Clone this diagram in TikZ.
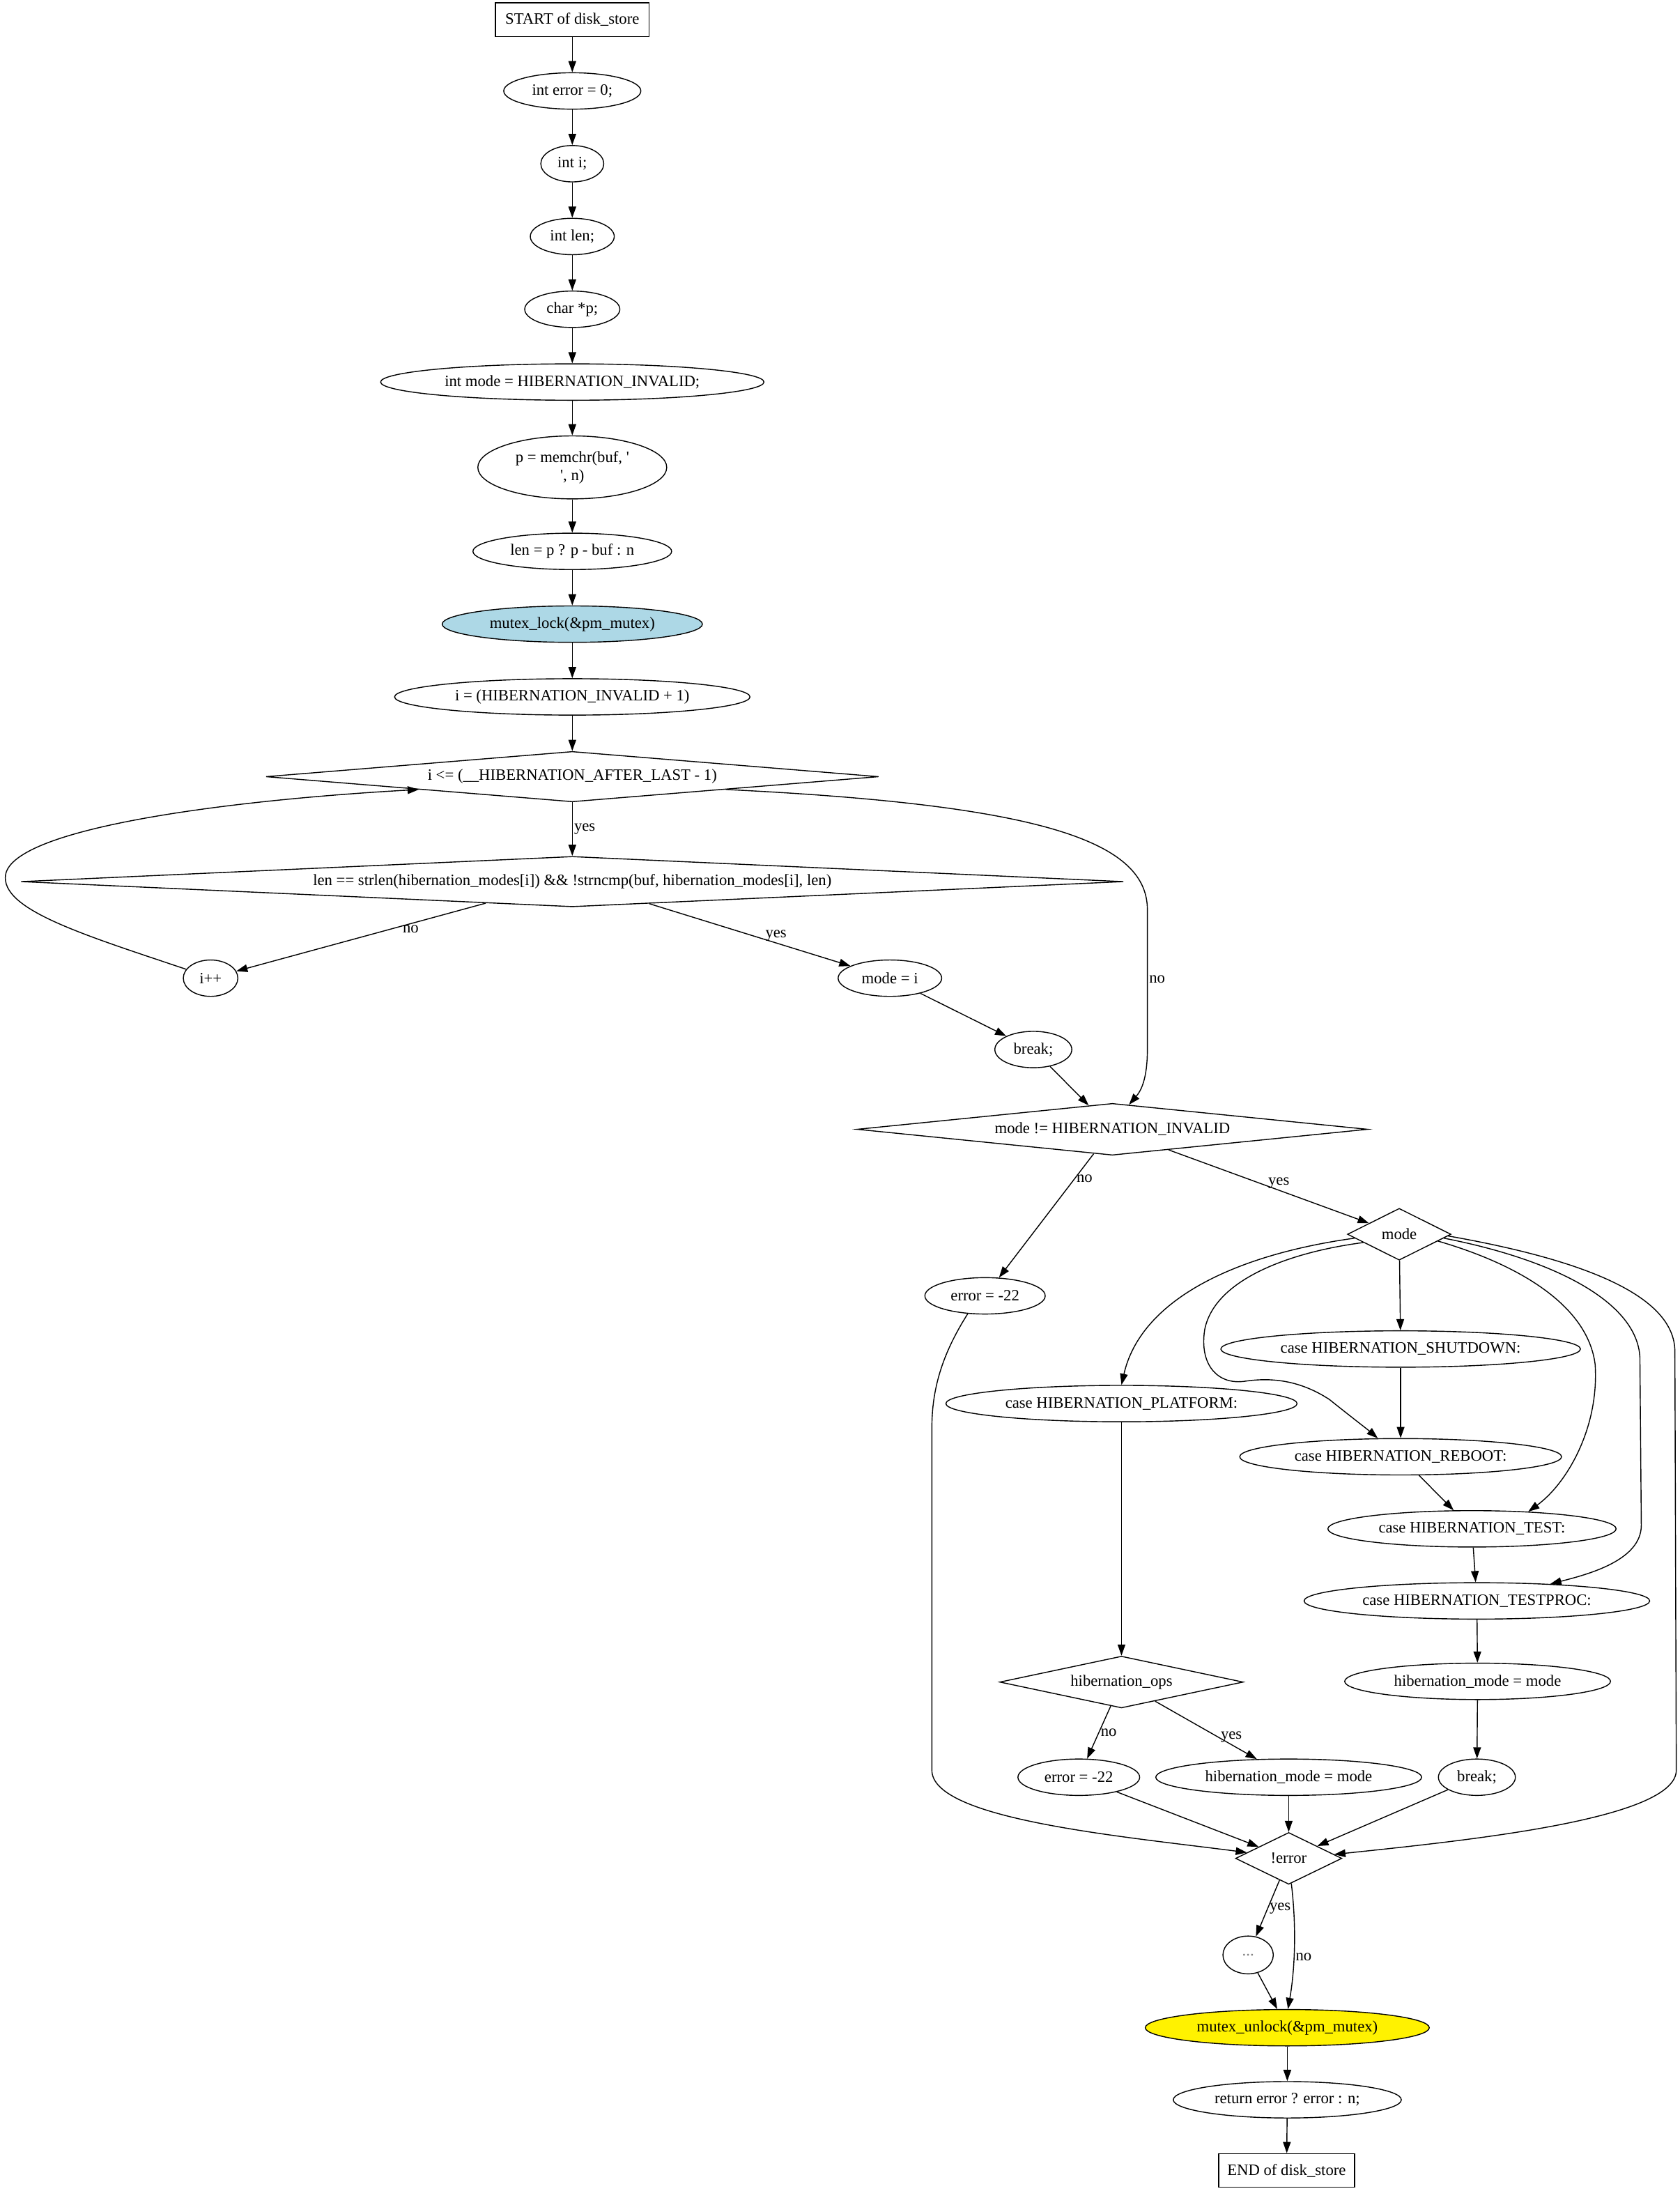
\documentclass[tikz,border=0pt]{standalone}
\usepackage{fontspec}
\setmainfont{Liberation Serif}
\usetikzlibrary{shapes.geometric,arrows.meta}
\definecolor{lockblue}{HTML}{ADD8E6}

\begin{document}
\begin{tikzpicture}[x=1pt, y=-1pt, line width=0.7pt,
    font=\fontsize{11.3}{13}\selectfont,
    every node/.style={inner sep=0pt},
    box/.style={draw, rectangle, minimum height=24pt},
    proc/.style={draw, ellipse, minimum height=26pt},
    cond/.style={draw, diamond, minimum height=37pt},
    lbl/.style={inner sep=1pt},
    flow/.style={-{Triangle[length=8pt,width=5.5pt]}}]
    \useasboundingbox (0,0) rectangle (1200.2,1565.7);

    % 先画上面一列的语句
    \node[box, minimum width=110pt] (start) at (409,14) {START of disk\_store};
    \node[proc, minimum width=98pt] (errinit) at (409,65) {int error = 0;};
    \node[proc, minimum width=45pt] (idecl) at (409,117) {int i;};
    \node[proc, minimum width=60pt] (lendecl) at (409,169) {int len;};
    \node[proc, minimum width=68pt] (pdecl) at (409,221) {char *p;};
    \node[proc, minimum width=274pt] (modedecl) at (409,273) {int mode = HIBERNATION\_INVALID;};
    \node[proc, minimum width=135pt, minimum height=45pt, align=center] (memchr) at (409,334)
        {p = memchr(buf, \textquotesingle\\\textquotesingle, n)};
    \node[proc, minimum width=142pt] (lenset) at (409,394) {len = p ? p - buf : n};
    \node[proc, minimum width=186pt, fill=lockblue] (lock) at (409,446) {mutex\_lock(\&pm\_mutex)};
    \node[proc, minimum width=254pt] (iinit) at (409,498) {i = (HIBERNATION\_INVALID + 1)};
    \node[cond, minimum width=438pt, minimum height=36pt, aspect=12] (loopcond) at (409,555)
        {i <= (\_\_HIBERNATION\_AFTER\_LAST - 1)};
    \node[cond, minimum width=788pt, minimum height=36pt, aspect=22] (match) at (409,630)
        {len == strlen(hibernation\_modes[i]) \&\& !strncmp(buf, hibernation\_modes[i], len)};
    \node[proc, minimum width=39pt] (iinc) at (150.5,699) {i++};
    \node[proc, minimum width=74pt] (modeset) at (636,699) {mode = i};
    \node[proc, minimum width=55pt] (brk) at (738.5,750) {break;};

    % switch 部分
    \node[cond, minimum width=365pt, aspect=10] (valid) at (795,807) {mode != HIBERNATION\_INVALID};
    \node[cond, minimum width=74pt, aspect=2] (sw) at (1000,882) {mode};
    \node[proc, minimum width=86pt] (errinval) at (704,926) {error = -22};
    \node[proc, minimum width=257pt] (shutdown) at (1001,964) {case HIBERNATION\_SHUTDOWN:};
    \node[proc, minimum width=251pt] (platform) at (801.5,1003) {case HIBERNATION\_PLATFORM:};
    \node[proc, minimum width=230pt] (reboot) at (1001,1041) {case HIBERNATION\_REBOOT:};
    \node[proc, minimum width=206pt] (test) at (1052,1092.5) {case HIBERNATION\_TEST:};
    \node[proc, minimum width=247pt] (testproc) at (1055.5,1144) {case HIBERNATION\_TESTPROC:};
    \node[cond, minimum width=174pt, aspect=4.7] (hibops) at (801.5,1202) {hibernation\_ops};
    \node[proc, minimum width=190pt] (hibset) at (1056,1201.5) {hibernation\_mode = mode};
    \node[proc, minimum width=87pt] (errops) at (771,1270) {error = -22};
    \node[proc, minimum width=190pt] (hibset2) at (921,1270) {hibernation\_mode = mode};
    \node[proc, minimum width=55pt] (brk2) at (1055.5,1270) {break;};
    \node[cond, minimum width=76pt, aspect=2] (noerr) at (921,1328) {!error};
    \node[proc, minimum width=36pt, minimum height=27pt] (dots) at (892,1397) {\textcolor{gray}{...}};
    \node[proc, minimum width=203pt, fill=yellow] (unlock) at (920,1449) {mutex\_unlock(\&pm\_mutex)};
    \node[proc, minimum width=163pt] (ret) at (920,1500.5) {return error ? error : n;};
    \node[box, minimum width=97pt] (stop) at (919.5,1551) {END of disk\_store};

    % 箭头
    \draw[flow] (start) -- (errinit);
    \draw[flow] (errinit) -- (idecl);
    \draw[flow] (idecl) -- (lendecl);
    \draw[flow] (lendecl) -- (pdecl);
    \draw[flow] (pdecl) -- (modedecl);
    \draw[flow] (modedecl) -- (memchr);
    \draw[flow] (memchr) -- (lenset);
    \draw[flow] (lenset) -- (lock);
    \draw[flow] (lock) -- (iinit);
    \draw[flow] (iinit) -- (loopcond);
    \draw[flow] (loopcond) -- node[lbl, right] {yes} (match);
    \draw[flow] (match.194) -- node[lbl, pos=0.3, below] {no} (iinc);
    \draw[flow] (match.344) -- node[lbl, pos=0.63, above] {yes} (modeset);
    \draw[flow] (iinc.160) .. controls (60,668) and (0,650) .. (4,625)
        .. controls (10,592) and (160,572) .. (loopcond.south west);
    \draw[flow] (loopcond.south east) .. controls (740,575) and (820,600) .. (820,650)
        -- node[lbl, right] {no} (820,750) .. controls (820,772) and (815,780) .. (valid.56);
    \draw[flow] (modeset) -- (brk);
    \draw[flow] (brk) -- (valid);
    \draw[flow] (valid) -- node[lbl, pos=0.2, right] {no} (errinval);
    \draw[flow] (valid) -- node[lbl, pos=0.55, above] {yes} (sw);

    \draw[flow] (sw) -- (shutdown);
    \draw[flow] (sw.185) .. controls (880,897) and (815,930) .. (platform.north);
    \draw[flow] (sw.193) .. controls (920,895) and (868,915) .. (861,950)
        .. controls (857,975) and (870,990) .. (890,987)
        .. controls (910,984) and (930,987) .. (950,1000)
        .. controls (965,1012) and (978,1022) .. (reboot.141);
    \draw[flow] (sw.350) .. controls (1090,905) and (1135,935) .. (1140,975)
        .. controls (1143,1020) and (1120,1060) .. (test.17);
    \draw[flow] (sw.355) .. controls (1110,900) and (1170,930) .. (1172,970)
        -- (1173,1090) .. controls (1173,1115) and (1135,1125) .. (testproc.13);
    \draw[flow] (sw.358) .. controls (1130,900) and (1196,925) .. (1197,965)
        -- (1198,1265) .. controls (1198,1300) and (1050,1315) .. (noerr.5);
    \draw[flow] (errinval.226) .. controls (675,965) and (666,990) .. (666,1020)
        -- (666,1265) .. controls (666,1300) and (800,1312) .. (noerr.172);

    \draw[flow] (shutdown) -- (reboot);
    \draw[flow] (reboot) -- (test);
    \draw[flow] (test) -- (testproc);
    \draw[flow] (testproc) -- (hibset);
    \draw[flow] (hibset) -- (brk2);
    \draw[flow] (platform) -- (hibops);
    \draw[flow] (hibops) -- node[lbl, midway, right] {no} (errops);
    \draw[flow] (hibops) -- node[lbl, pos=0.75, above] {yes} (hibset2);
    \draw[flow] (errops) -- (noerr);
    \draw[flow] (hibset2) -- (noerr);
    \draw[flow] (brk2) -- (noerr);
    \draw[flow] (noerr) -- node[lbl, midway, right] {yes} (dots);
    \draw[flow] (noerr.-84) .. controls (927,1380) and (925,1410) .. node[lbl, pos=0.55, right] {no} (unlock.88);
    \draw[flow] (dots) -- (unlock);
    \draw[flow] (unlock) -- (ret);
    \draw[flow] (ret) -- (stop);
\end{tikzpicture}
\end{document}
